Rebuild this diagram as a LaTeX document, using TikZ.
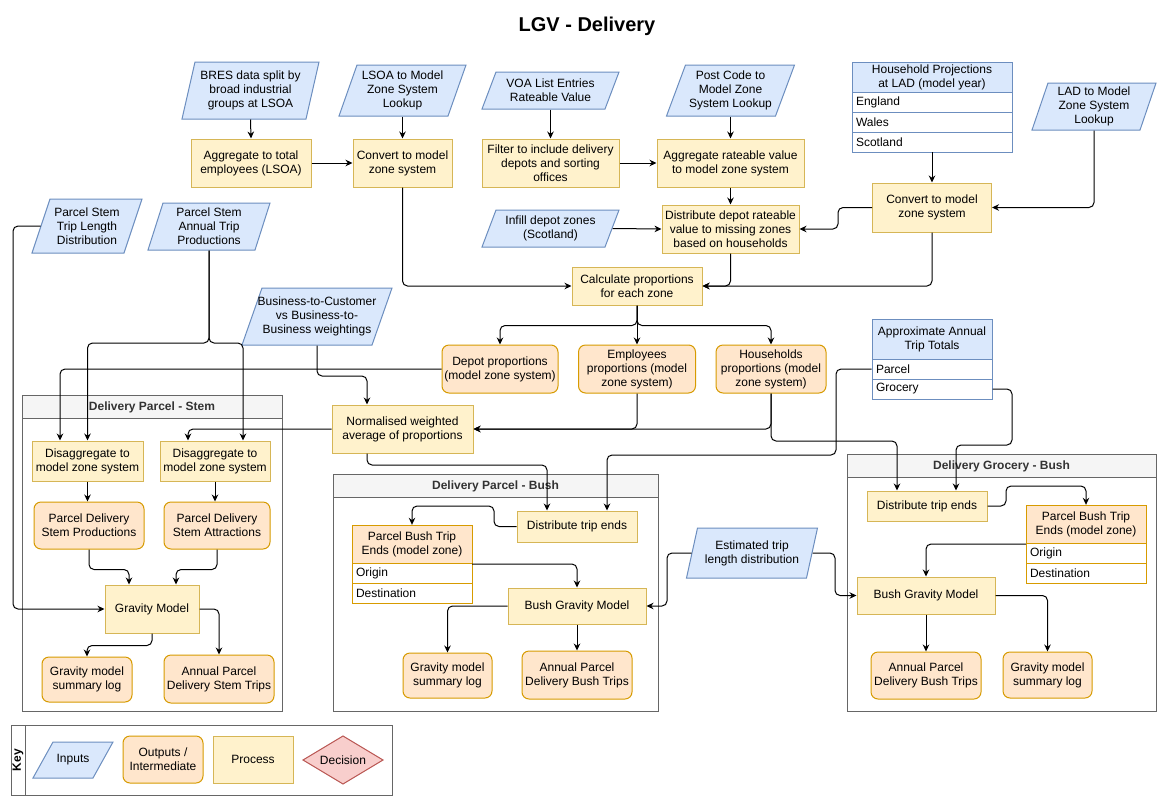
\documentclass[tikz,border=0pt]{standalone}
\usepackage{fontspec}
\setmainfont{Liberation Sans}
\usetikzlibrary{arrows.meta}
\definecolor{inF}{HTML}{DAE8FC}\definecolor{inS}{HTML}{6C8EBF}
\definecolor{prF}{HTML}{FFF2CC}\definecolor{prS}{HTML}{D6B656}
\definecolor{ouF}{HTML}{FFE6CC}\definecolor{ouS}{HTML}{D79B00}
\definecolor{deF}{HTML}{F8CECC}\definecolor{deS}{HTML}{B85450}
\definecolor{gyF}{HTML}{F5F5F5}\definecolor{gyS}{HTML}{666666}
\definecolor{txtG}{HTML}{333333}
\newcommand\fs{\fontsize{12}{14}\selectfont}
\newcommand\myPara[7]{%
  \draw[draw=inS, fill=inF, line width=1pt] ({#2-#4/2-#6/2},{#3+#5/2}) -- ({#2+#4/2-#6/2},{#3+#5/2}) -- ({#2+#4/2+#6/2},{#3-#5/2}) -- ({#2-#4/2+#6/2},{#3-#5/2}) -- cycle;
  \node[box, minimum width=#4pt, minimum height=#5pt] (#1) at (#2,#3) {#7};}
\newcommand\myLane[6]{%
  \draw[draw=gyS, fill=white, line width=1pt] (#2,#3) rectangle (#4,#5);
  \draw[draw=gyS, fill=gyF, line width=1pt] (#2,#3) rectangle ({#4},{#3+23});
  \node[font=\fs\bfseries, text=txtG] (#1) at ({(#2+#4)/2},{#3+12}) {#6};}
\begin{document}
\begin{tikzpicture}[x=1pt,y=-1pt,
  box/.style={rectangle, inner sep=0pt, align=center, font=\fs, line width=1pt},
  proc/.style 2 args={box, draw=prS, fill=prF, minimum width=#1pt, minimum height=#2pt},
  outp/.style 2 args={box, draw=ouS, fill=ouF, rounded corners=7pt, minimum width=#1pt, minimum height=#2pt},
  trow/.style={rectangle, line width=1pt, fill=white, minimum height=20pt, inner xsep=4pt, inner ysep=0pt, text width=#1pt, align=left, font=\fs},
  arr/.style={draw=black, line width=1pt, rounded corners=5pt, -{Stealth[length=7pt,width=6.5pt]}},
  ]
\useasboundingbox (0,0) rectangle (1162,801);
\fill[white] (0,0) rectangle (1162,801);

\node[font=\fontsize{20}{24}\selectfont\bfseries] (title) at (587,26) {LGV - Delivery};

% containers
\myLane{stem}{22}{395}{282}{711}{Delivery Parcel - Stem}
\myLane{pbush}{333}{474}{658}{711}{Delivery Parcel - Bush}
\myLane{gbush}{847}{454}{1156}{711}{Delivery Grocery - Bush}

% inputs
\myPara{bres}{250.5}{90.5}{124}{57}{13}{BRES data split by\\broad industrial\\groups at LSOA}
\myPara{lsoa}{402.5}{90.5}{109}{51}{18}{LSOA to Model\\Zone System\\Lookup}
\myPara{voa}{550.5}{90.5}{123}{37}{14}{VOA List Entries\\Rateable Value}
\myPara{post}{730.5}{90.5}{109}{51}{19}{Post Code to\\Model Zone\\System Lookup}
\myPara{lad}{1094}{106.5}{108}{47}{16}{LAD to Model\\Zone System\\Lookup}
\myPara{ptld}{87}{226}{92}{54}{18}{Parcel Stem\\Trip Length\\Distribution}
\myPara{patp}{209}{226.5}{107}{47}{15}{Parcel Stem\\Annual Trip\\Productions}
\myPara{infill}{550.5}{228.5}{123}{37}{14}{Infill depot zones\\(Scotland)}
\myPara{btoc}{317}{316.5}{130}{57}{20}{Business-to-Customer\\vs Business-to-\\Business weightings}
\myPara{est}{752}{553}{120}{50}{11}{Estimated trip\\length distribution}

% household table
\node[minimum width=160pt, minimum height=90pt, inner sep=0pt] (hp) at (932,107) {};
\node[box, draw=inS, fill=inF, minimum width=160pt, minimum height=30pt] (hph) at (932,77) {Household Projections\\at LAD (model year)};
\node[trow=152, draw=inS] (hpe) at (932,102) {England};
\node[trow=152, draw=inS] (hpw) at (932,122) {Wales};
\node[trow=152, draw=inS] (hps) at (932,142) {Scotland};

% approx table
\node[box, draw=inS, fill=inF, minimum width=120pt, minimum height=40pt] (aph) at (932,339) {Approximate Annual\\Trip Totals};
\node[trow=112, draw=inS] (aparcel) at (932,369) {Parcel};
\node[trow=112, draw=inS] (agro) at (932,389) {Grocery};

% processes
\node[proc={120}{48}] (agg) at (251,163) {Aggregate to total\\employees (LSOA)};
\node[proc={99}{48}] (conv) at (402.5,163) {Convert to model\\zone system};
\node[proc={137}{48}] (filter) at (550.5,163) {Filter to include delivery\\depots and sorting\\offices};
\node[proc={147}{48}] (aggrv) at (730.5,163) {Aggregate rateable value\\to model zone system};
\node[proc={137}{48}] (distdepot) at (730.5,229) {Distribute depot rateable\\value to missing zones\\based on households};
\node[proc={119}{49}] (convh) at (932,207.5) {Convert to model\\zone system};
\node[proc={130}{38}] (calc) at (637,286) {Calculate proportions\\for each zone};
\node[proc={141}{48}] (norm) at (402.5,429) {Normalised weighted\\average of proportions};

\node[outp={116}{48}] (depot) at (500,369) {Depot proportions\\(model zone system)};
\node[outp={117}{48}] (emp) at (637,369) {Employees\\proportions (model\\zone system)};
\node[outp={110}{48}] (hh) at (771,369) {Households\\proportions (model\\zone system)};

% stem
\node[proc={111}{40}] (dis1) at (87.5,461) {Disaggregate to\\model zone system};
\node[proc={110}{40}] (dis2) at (215,461) {Disaggregate to\\model zone system};
\node[outp={110}{47}] (prod) at (89,525.5) {Parcel Delivery\\Stem Productions};
\node[outp={106}{47}] (attr) at (217,525.5) {Parcel Delivery\\Stem Attractions};
\node[proc={94}{48}] (grav) at (152,609) {Gravity Model};
\node[outp={90}{45}] (logone) at (87,679.5) {Gravity model\\summary log};
\node[outp={110}{48}] (annone) at (219,679) {Annual Parcel\\Delivery Stem Trips};

% parcel bush
\node[proc={120}{31}] (pdist) at (577,526.5) {Distribute trip ends};
\node[minimum width=120pt, minimum height=78pt, inner sep=0pt] (pbte) at (412,564) {};
\node[box, draw=ouS, fill=ouF, minimum width=120pt, minimum height=38pt] (pbteh) at (412,544) {Parcel Bush Trip\\Ends (model zone)};
\node[trow=112, draw=ouS] (pbteo) at (412,573) {Origin};
\node[trow=112, draw=ouS] (pbted) at (412,593) {Destination};
\node[proc={138}{36}] (bgrav) at (577,606) {Bush Gravity Model};
\node[outp={89}{45}] (logtwo) at (447.5,675.5) {Gravity model\\summary log};
\node[outp={110}{48}] (anntwo) at (577,675) {Annual Parcel\\Delivery Bush Trips};

% grocery bush
\node[proc={120}{30}] (gdist) at (927,506) {Distribute trip ends};
\node[minimum width=120pt, minimum height=78pt, inner sep=0pt] (gbte) at (1086,544) {};
\node[box, draw=ouS, fill=ouF, minimum width=120pt, minimum height=38pt] (gbteh) at (1086,524) {Parcel Bush Trip\\Ends (model zone)};
\node[trow=112, draw=ouS] (gbteo) at (1086,553) {Origin};
\node[trow=112, draw=ouS] (gbted) at (1086,573) {Destination};
\node[proc={138}{37}] (gbgrav) at (926,595.5) {Bush Gravity Model};
\node[outp={110}{47}] (gann) at (926,675.5) {Annual Parcel\\Delivery Bush Trips};
\node[outp={89}{46}] (glog) at (1047.5,675) {Gravity model\\summary log};

% key
\draw[draw=gyS, fill=white, line width=1pt] (11,725) rectangle (392,795);
\draw[draw=gyS, line width=1pt] (25,725) -- (25,795);
\node[rotate=90, font=\fs\bfseries] (keyt) at (18,760) {Key};
\myPara{keyin}{73}{760}{60}{36}{20}{Inputs}
\node[outp={80}{47}] (keyout) at (163,759.5) {Outputs /\\Intermediate};
\node[proc={80}{47}] (keyproc) at (253,759.5) {Process};
\draw[draw=deS, fill=deF, line width=1pt] (303,760) -- (343,736) -- (383,760) -- (343,784) -- cycle;
\node[box] (keydec) at (343,760) {Decision};

% connectors
\draw[arr] (bres.south) -- (agg.north);
\draw[arr] (agg.east) -- (conv.west);
\draw[arr] (lsoa.south) -- (conv.north);
\draw[arr] (voa.south) -- (filter.north);
\draw[arr] (filter.east) -- (aggrv.west);
\draw[arr] (post.south) -- (aggrv.north);
\draw[arr] (aggrv.south) -- (distdepot.north);
\draw[arr] (infill.east) -- (distdepot.west);
\draw[arr] (conv.south) |- (calc.west);
\draw[arr] (distdepot.south) |- (calc.east);
\draw[arr] (convh.south) |- (calc.east);
\draw[arr] (hp.south) -- (convh.north);
\draw[arr] (lad.south) |- (convh.east);
\draw[arr] (convh.west) -- (838,207.5) |- (distdepot.east);
\draw[arr] (calc.south) -- ++(0,20) -| (depot.north);
\draw[arr] (calc.south) -- (emp.north);
\draw[arr] (calc.south) -- ++(0,20) -| (hh.north);
\draw[arr] (depot.west) -| ([xshift=-27.5pt]dis1.north);
\draw[arr] (patp.south) -- (209,343) -| (dis1.north);
\draw[arr] (patp.south) -- (209,343) -| ([xshift=28pt]dis2.north);
\draw[arr] (norm.west) -| ([xshift=-27pt]dis2.north);
\draw[arr] (btoc.south) -- (317,376) -| ([xshift=-35.5pt]norm.north);
\draw[arr] (ptld.west) -- (13,226) |- (grav.west);
\draw[arr] (dis1.south) -- (dis1.south |- prod.north);
\draw[arr] (dis2.south) -- (dis2.south |- attr.north);
\draw[arr] (prod.south) -- ++(0,20) -| ([xshift=-23pt]grav.north);
\draw[arr] (attr.south) -- ++(0,20) -| ([xshift=24pt]grav.north);
\draw[arr] (grav.south) -- ++(0,12) -| (logone.north);
\draw[arr] (grav.east) -| (annone.north);
\draw[arr] (emp.south) |- (norm.east);
\draw[arr] (hh.south) |- (norm.east);
\draw[arr] (hh.south) -- (771,441) -| ([xshift=-30pt]gdist.north);
\draw[arr] ([xshift=-35.5pt]norm.south) -- (367,465) -| ([xshift=-30pt]pdist.north);
\draw[arr] (aparcel.west) -| (836,455) -| ([xshift=30pt]pdist.north);
\draw[arr] (agro.east) -| (1012,445) -| ([xshift=29pt]gdist.north);
\draw[arr] (pdist.west) -| (494,506) -| (pbte.north);
\draw[arr] (pbte.east) -| (bgrav.north);
\draw[arr] (est.west) -- (667,553) |- (bgrav.east);
\draw[arr] (est.east) -- (835,553) |- (gbgrav.west);
\draw[arr] (bgrav.west) -| (logtwo.north);
\draw[arr] (bgrav.south) -- (anntwo.north);
\draw[arr] (gdist.east) -| (1006,486) -| (gbte.north);
\draw[arr] (gbte.west) -| (gbgrav.north);
\draw[arr] (gbgrav.south) -- (gann.north);
\draw[arr] (gbgrav.east) -| (glog.north);
\end{tikzpicture}
\end{document}
